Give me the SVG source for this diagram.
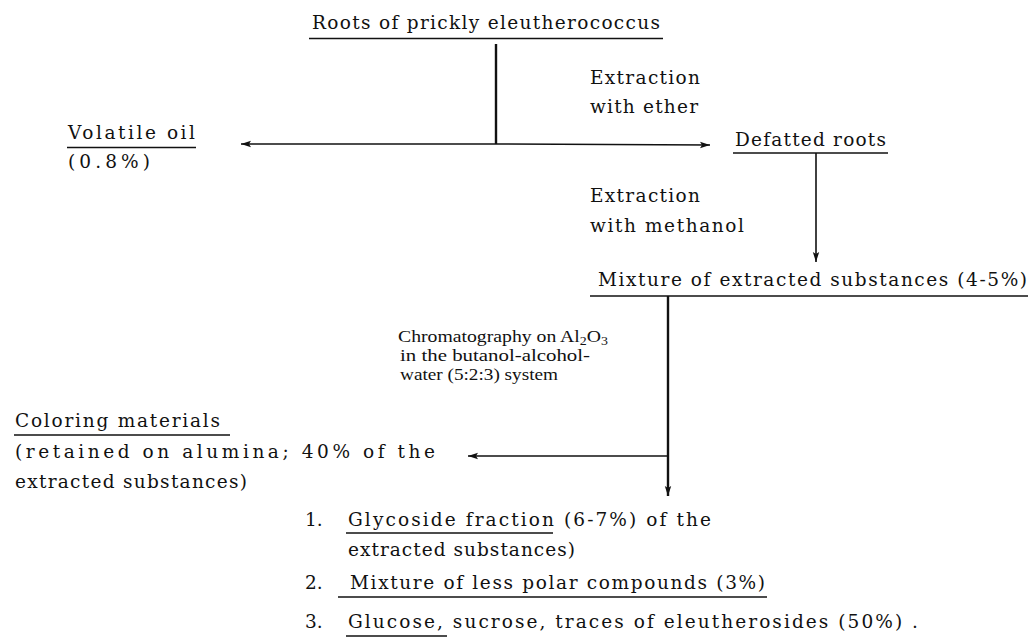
<svg xmlns="http://www.w3.org/2000/svg" width="1032" height="644" viewBox="0 0 1032 644">
<defs>
<style>
text{font-family:"DejaVu Serif","Liberation Serif",serif;font-size:18.5px;fill:#111;}
.sm{font-family:"Liberation Serif","Times New Roman",serif;font-size:17px;}
.ul{stroke:#111;stroke-width:1.6;fill:none;}
.cn{stroke:#111;stroke-width:1.6;fill:none;}
.thick{stroke-width:2.4;}
</style>
<marker id="ah" viewBox="0 -4 10 8" refX="10" refY="0" markerWidth="10" markerHeight="8" markerUnits="userSpaceOnUse" orient="auto">
<path d="M0,-3.2 L10,0 L0,3.2 L2,0 z" fill="#111"/>
</marker>
</defs>
<rect width="1032" height="644" fill="#fff"/>
<g id="connectors">
<line class="cn thick" x1="496" y1="44" x2="496" y2="144"/>
<line class="cn" x1="496" y1="144" x2="241" y2="144" marker-end="url(#ah)"/>
<line class="cn" x1="496" y1="144" x2="710" y2="145" marker-end="url(#ah)"/>
<line class="cn" x1="816" y1="153" x2="816" y2="262" marker-end="url(#ah)"/>
<line class="cn thick" x1="668" y1="296" x2="668" y2="496" marker-end="url(#ah)"/>
<line class="cn" x1="668" y1="456" x2="468" y2="456" marker-end="url(#ah)"/>
</g>
<g id="n-roots">
<text x="312" y="29" textLength="348" lengthAdjust="spacing">Roots of prickly eleutherococcus</text>
<line class="ul" x1="309" y1="38.5" x2="663" y2="38.5"/>
</g>
<g id="lbl-ether">
<text x="590" y="84" textLength="110" lengthAdjust="spacing">Extraction</text>
<text x="590" y="113" textLength="108" lengthAdjust="spacing">with ether</text>
</g>
<g id="n-oil">
<text x="68" y="139" textLength="127" lengthAdjust="spacing">Volatile oil</text>
<line class="ul" x1="67" y1="147.5" x2="196" y2="147.5"/>
<text x="68" y="168" textLength="82" lengthAdjust="spacing">(0.8%)</text>
</g>
<g id="n-defatted">
<text x="735" y="146" textLength="151" lengthAdjust="spacing">Defatted roots</text>
<line class="ul" x1="733" y1="153" x2="888" y2="153"/>
</g>
<g id="lbl-methanol">
<text x="590" y="202" textLength="110" lengthAdjust="spacing">Extraction</text>
<text x="590" y="232" textLength="154" lengthAdjust="spacing">with methanol</text>
</g>
<g id="n-mixture">
<text x="598" y="286" textLength="429" lengthAdjust="spacing">Mixture of extracted substances (4-5%)</text>
<line class="ul" x1="590" y1="296" x2="1028" y2="296"/>
</g>
<g id="lbl-chrom">
<text class="sm" x="398" y="342" textLength="210" lengthAdjust="spacingAndGlyphs">Chromatography on Al<tspan font-size="12" dy="3">2</tspan><tspan dy="-3">O</tspan><tspan font-size="12" dy="3">3</tspan></text>
<text class="sm" x="400" y="361" textLength="190" lengthAdjust="spacingAndGlyphs">in the butanol-alcohol-</text>
<text class="sm" x="400" y="380" textLength="158" lengthAdjust="spacingAndGlyphs">water (5:2:3) system</text>
</g>
<g id="n-coloring">
<text x="15" y="427" textLength="205" lengthAdjust="spacing">Coloring materials</text>
<line class="ul" x1="14" y1="435" x2="230" y2="435"/>
<text x="15" y="458" textLength="420" lengthAdjust="spacing">(retained on alumina; 40% of the</text>
<text x="15" y="488" textLength="232" lengthAdjust="spacing">extracted substances)</text>
</g>
<g id="n-fractions">
<text x="305" y="526">1.</text>
<text x="348" y="526" textLength="363" lengthAdjust="spacing">Glycoside fraction (6-7%) of the</text>
<line class="ul" x1="346" y1="533" x2="553" y2="533"/>
<text x="348" y="556" textLength="227" lengthAdjust="spacing">extracted substances)</text>
<text x="305" y="589">2.</text>
<text x="350" y="589" textLength="415" lengthAdjust="spacing">Mixture of less polar compounds (3%)</text>
<line class="ul" x1="338" y1="597" x2="767" y2="597"/>
<text x="305" y="628">3.</text>
<text x="348" y="628" textLength="570" lengthAdjust="spacing">Glucose, sucrose, traces of eleutherosides (50%) .</text>
<line class="ul" x1="346" y1="636" x2="447" y2="636"/>
</g>
</svg>
